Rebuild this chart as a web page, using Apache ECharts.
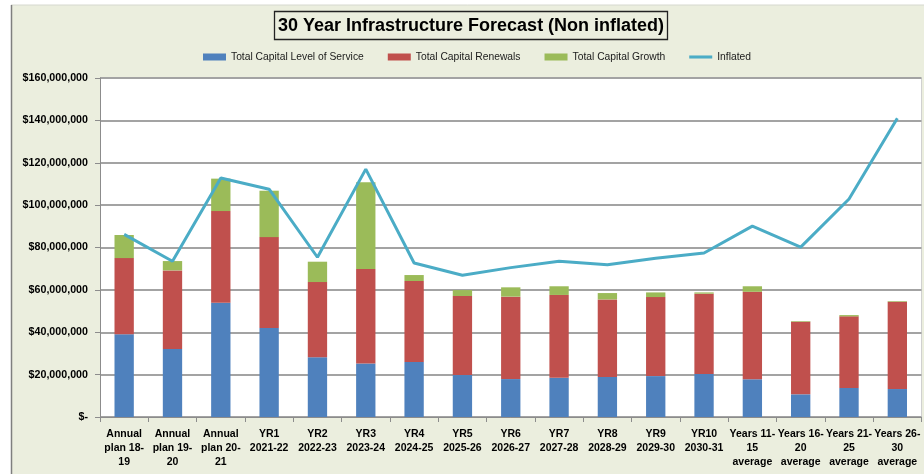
<!DOCTYPE html>
<html>
<head>
<meta charset="utf-8">
<script src="https://cdn.jsdelivr.net/npm/echarts@6/dist/echarts.min.js"></script>
<style>
  html, body { margin: 0; padding: 0; background: #ffffff; }
  #chart { width: 924px; height: 474px; }
</style>
</head>
<body>
<div id="chart"></div>
<script>
// Forecast periods (x-axis), as shown with their line breaks
var categories = [
  'Annual\nplan 18-\n19', 'Annual\nplan 19-\n20', 'Annual\nplan 20-\n21',
  'YR1\n2021-22', 'YR2\n2022-23', 'YR3\n2023-24', 'YR4\n2024-25', 'YR5\n2025-26',
  'YR6\n2026-27', 'YR7\n2027-28', 'YR8\n2028-29', 'YR9\n2029-30', 'YR10\n2030-31',
  'Years 11-\n15\naverage', 'Years 16-\n20\naverage', 'Years 21-\n25\naverage', 'Years 26-\n30\naverage'
];

// Stacked capital spend components (dollars)
var levelOfService = [39.0e6, 32.1e6, 53.9e6, 42.0e6, 28.2e6, 25.3e6, 26.0e6, 19.8e6,
  17.9e6, 18.5e6, 18.9e6, 19.3e6, 20.3e6, 17.8e6, 10.7e6, 13.7e6, 13.2e6];
var renewals = [36.0e6, 37.1e6, 43.3e6, 42.9e6, 35.5e6, 44.5e6, 38.2e6, 37.3e6,
  38.9e6, 39.1e6, 36.6e6, 37.3e6, 37.9e6, 41.3e6, 34.3e6, 33.8e6, 41.2e6];
var growth = [10.9e6, 4.4e6, 15.3e6, 21.9e6, 9.6e6, 41.0e6, 2.8e6, 2.8e6,
  4.4e6, 4.1e6, 3.0e6, 2.2e6, 0.6e6, 2.6e6, 0.3e6, 0.6e6, 0.3e6];

// Inflated total per period (dollars)
var inflated = [86.2e6, 73.5e6, 112.8e6, 107.5e6, 75.4e6, 117.0e6, 72.7e6, 66.9e6,
  70.5e6, 73.5e6, 71.9e6, 74.9e6, 77.4e6, 90.1e6, 80.2e6, 102.9e6, 141.0e6];

// Value axis ticks
var yMin = 0, yMax = 160e6, yStep = 20e6;

var FONT = '"Liberation Sans", Arial, sans-serif';
var BG = '#ebeede';
var GRID_GREY = '#a3a3a3';
var AXIS_GREY = '#8c8c8c';

function money(v) {
  if (v === 0) return '$-';
  return '$' + Math.round(v).toString().replace(/\B(?=(\d{3})+(?!\d))/g, ',');
}

var chart = echarts.init(document.getElementById('chart'), null, { renderer: 'canvas' });

chart.setOption({
  backgroundColor: '#ffffff',
  animation: false,
  graphic: [
    { type: 'rect', z: -10, shape: { x: 11, y: 5, width: 920, height: 480 },
      style: { fill: BG } },
    { type: 'line', z: -9, shape: { x1: 11, y1: 5, x2: 924, y2: 5 },
      style: { stroke: '#d6d8cf', lineWidth: 1 } },
    { type: 'line', z: -9, shape: { x1: 11.5, y1: 5, x2: 11.5, y2: 474 },
      style: { stroke: '#7f7f7f', lineWidth: 1.5 } },
    // white plotting area with its faint right edge
    { type: 'rect', z: -8, shape: { x: 100, y: 78, width: 821.5, height: 339 },
      style: { fill: '#ffffff' } },
    { type: 'line', z: -7, shape: { x1: 921.5, y1: 78, x2: 921.5, y2: 417 },
      style: { stroke: '#d0d0d0', lineWidth: 1 } }
  ],
  title: {
    text: '30 Year Infrastructure Forecast (Non inflated)',
    left: 274, top: 11,
    padding: [4, 4, 3, 4],
    borderColor: '#222222', borderWidth: 1.3,
    textStyle: { fontFamily: FONT, fontWeight: 'bold', fontSize: 18, color: '#000000', lineHeight: 22 }
  },
  legend: {
    left: 198, top: 47,
    itemWidth: 23, itemHeight: 7, itemGap: 24,
    textStyle: { fontFamily: FONT, fontSize: 10.3, color: '#1a1a1a' },
    data: [
      { name: 'Total Capital Level of Service', icon: 'rect' },
      { name: 'Total Capital Renewals', icon: 'rect' },
      { name: 'Total Capital Growth', icon: 'rect' },
      { name: 'Inflated', icon: 'path://M0,0 H30 V4 H0 Z' }
    ]
  },
  grid: { left: 100, right: 2.5, top: 78, bottom: 57, containLabel: false },
  xAxis: {
    type: 'category',
    data: categories,
    boundaryGap: true,
    axisLine: { lineStyle: { color: AXIS_GREY, width: 1 } },
    axisTick: { show: true, length: 5, lineStyle: { color: AXIS_GREY } },
    axisLabel: {
      interval: 0, margin: 10, color: '#000000',
      fontFamily: FONT, fontWeight: 'bold', fontSize: 10.5, lineHeight: 14
    }
  },
  yAxis: {
    type: 'value',
    min: yMin, max: yMax, interval: yStep,
    axisLine: { show: true, lineStyle: { color: AXIS_GREY, width: 1 } },
    axisTick: { show: true, length: 5, lineStyle: { color: AXIS_GREY } },
    splitLine: { lineStyle: { color: GRID_GREY, width: 2 } },
    axisLabel: {
      margin: 12, color: '#000000', formatter: money,
      fontFamily: FONT, fontWeight: 'bold', fontSize: 10.7
    }
  },
  series: [
    { name: 'Total Capital Level of Service', type: 'bar', stack: 'capital', barWidth: '40%',
      itemStyle: { color: '#4f81bd' }, data: levelOfService },
    { name: 'Total Capital Renewals', type: 'bar', stack: 'capital',
      itemStyle: { color: '#c0504d' }, data: renewals },
    { name: 'Total Capital Growth', type: 'bar', stack: 'capital',
      itemStyle: { color: '#9bbb59' }, data: growth },
    { name: 'Inflated', type: 'line', symbol: 'none', z: 5,
      lineStyle: { color: '#4bacc6', width: 3 }, itemStyle: { color: '#4bacc6' },
      data: inflated }
  ]
});
</script>
</body>
</html>
